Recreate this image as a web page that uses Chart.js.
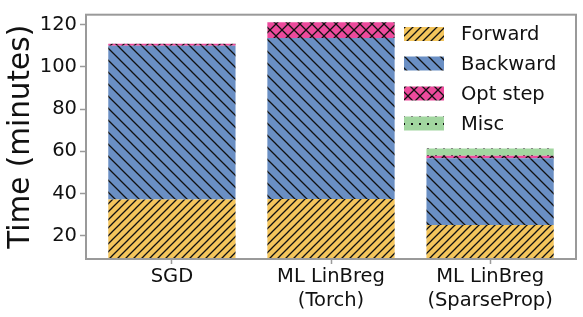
<!DOCTYPE html>
<html>
<head>
<meta charset="utf-8">
<script src="https://cdn.jsdelivr.net/npm/chart.js@4.4.1/dist/chart.umd.min.js"></script>
<style>
  html, body { margin: 0; padding: 0; background: #fff; }
</style>
</head>
<body>
<canvas id="timeChart" width="583" height="317"></canvas>
<script>
// Chart values (minutes)
const categories = ['SGD', ['ML LinBreg', '(Torch)'], ['ML LinBreg', '(SparseProp)']];
const forwardTimes = [37.3, 37.5, 25.2];
const backwardTimes = [72.7, 76.2, 31.6];
const optStepTimes = [1.0, 7.4, 1.2];
const miscTimes = [0.0, 0.0, 3.4];
const seriesNames = ['Forward', 'Backward', 'Opt step', 'Misc'];
const yTicks = [20, 40, 60, 80, 100, 120];

const GRAY = '#9a9a9a';
const FONT = 'DejaVu Sans';

// Build a hatch pattern similar to matplotlib's hatches
function makeHatch(bg, kind, size) {
    const c = document.createElement('canvas');
    c.width = size;
    c.height = size;
    const g = c.getContext('2d');
    g.fillStyle = bg;
    g.fillRect(0, 0, size, size);
    g.strokeStyle = '#111';
    g.fillStyle = '#111';
    g.lineWidth = 1.3;
    const s = size;
    function fwd() {
        g.beginPath();
        g.moveTo(-1, s + 1); g.lineTo(s + 1, -1);
        g.moveTo(-1, 1); g.lineTo(1, -1);
        g.moveTo(s - 1, s + 1); g.lineTo(s + 1, s - 1);
        g.stroke();
    }
    function back() {
        g.beginPath();
        g.moveTo(-1, -1); g.lineTo(s + 1, s + 1);
        g.moveTo(s - 1, -1); g.lineTo(s + 1, 1);
        g.moveTo(-1, s - 1); g.lineTo(1, s + 1);
        g.stroke();
    }
    if (kind === '/') fwd();
    if (kind === '\\') back();
    if (kind === 'x') { fwd(); back(); }
    if (kind === '.') {
        g.fillRect(s / 2 - 1, s / 2 - 1, 2, 2);
    }
    return g.createPattern(c, 'repeat');
}

const fills = [
    makeHatch('rgb(244,197,92)', '/', 8),
    makeHatch('rgb(106,143,196)', '\\', 12),
    makeHatch('rgb(236,74,156)', 'x', 12),
    makeHatch('rgb(162,214,160)', '.', 8)
];

const seriesValues = [forwardTimes, backwardTimes, optStepTimes, miscTimes];

const datasets = seriesValues.map((vals, k) => ({
    label: seriesNames[k],
    data: vals.map((v, i) => ({ x: i, y: v })),
    backgroundColor: fills[k],
    borderWidth: 0,
    categoryPercentage: 0.8,
    barPercentage: 1.0
}));

// Top/right spines and legend inside the axes
const framePlugin = {
    id: 'frame',
    afterDraw(chart) {
        const { ctx, chartArea: a } = chart;
        ctx.save();
        ctx.strokeStyle = GRAY;
        ctx.lineWidth = 2;
        ctx.strokeRect(a.left, a.top, a.right - a.left, a.bottom - a.top);

        const rows = [34, 63.5, 93.5, 123.5];
        ctx.font = '19.5px "' + FONT + '"';
        ctx.textBaseline = 'middle';
        ctx.textAlign = 'left';
        seriesNames.forEach((name, k) => {
            ctx.fillStyle = fills[k];
            ctx.fillRect(404, rows[k] - 7, 40, 14);
            ctx.fillStyle = '#111';
            ctx.fillText(name, 461, rows[k] + 1);
        });
        ctx.restore();
    }
};

const ctx = document.getElementById('timeChart').getContext('2d');
new Chart(ctx, {
    type: 'bar',
    data: { datasets: datasets },
    options: {
        responsive: false,
        devicePixelRatio: 1,
        animation: false,
        layout: { padding: { top: 7, right: 7, left: 0, bottom: 0 } },
        plugins: {
            legend: { display: false },
            tooltip: { enabled: false }
        },
        scales: {
            x: {
                type: 'linear',
                stacked: true,
                offset: false,
                min: -0.54,
                max: 2.54,
                afterBuildTicks: s => { s.ticks = categories.map((c, i) => ({ value: i })); },
                afterFit: s => { s.height = 58; },
                ticks: {
                    callback: v => categories[v],
                    color: '#111',
                    font: { family: FONT, size: 19.5, lineHeight: 1.22 },
                    padding: 1,
                    maxRotation: 0
                },
                grid: { drawOnChartArea: false, offset: false, tickLength: 5, color: GRAY, tickWidth: 1.5 },
                border: { color: GRAY, width: 2 }
            },
            y: {
                stacked: true,
                min: 9.1,
                max: 124.7,
                afterBuildTicks: s => { s.ticks = yTicks.map(v => ({ value: v })); },
                afterFit: s => { s.width = 86; },
                ticks: {
                    color: '#111',
                    font: { family: FONT, size: 19.5 },
                    padding: 3
                },
                grid: { drawOnChartArea: false, tickLength: 6, color: GRAY, tickWidth: 1.5 },
                border: { color: GRAY, width: 2 },
                title: {
                    display: true,
                    text: 'Time (minutes)',
                    color: '#111',
                    font: { family: FONT, size: 29.5, lineHeight: 1.2 },
                    padding: { top: 4, bottom: 0 }
                }
            }
        }
    },
    plugins: [framePlugin]
});
</script>
</body>
</html>
